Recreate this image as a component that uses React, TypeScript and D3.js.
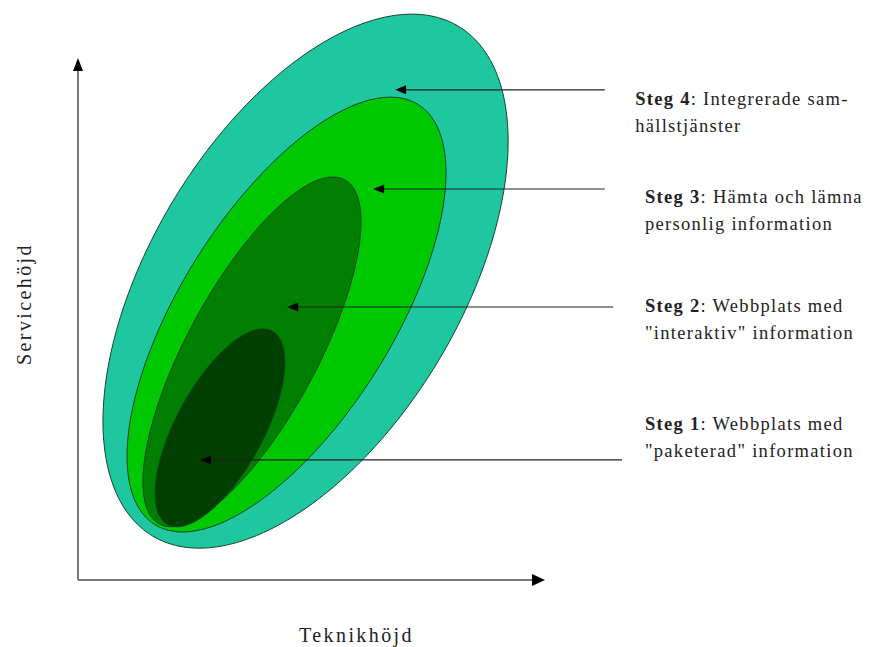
import React from "react";
import * as d3 from "d3";

// Stages (index 0 = Steg 1 ... 3 = Steg 4)
const stageNames = ["Steg 1", "Steg 2", "Steg 3", "Steg 4"];
const stageLine1 = [": Webbplats med", ": Webbplats med", ": Hämta och lämna", ": Integrerade sam-"];
const stageLine2 = ['"paketerad" information', '"interaktiv" information', "personlig information", "hällstjänster"];

// Zone extents in chart units (x: Teknikhöjd 0–100, y: Servicehöjd 0–100)
const zoneXMin = [16.5, 13.9, 10.5, 5.35];
const zoneXMax = [44.3, 60.6, 78.8, 92.1];
const zoneYMin = [10.2, 10.2, 9.2, 6.1];
const zoneYMax = [48.1, 77.2, 92.5, 108.4];
const zoneYAtXMax = [41.7, 68.6, 78.0, 84.1];

// Pointer arrows
const arrowY = [23.0, 52.3, 74.9, 93.9];
const arrowTipX = [26.1, 44.8, 63.2, 67.9];
const arrowTailX = [116.5, 114.6, 112.8, 112.8];

// Label anchors (chart units)
const labelX = [121.4, 121.4, 121.4, 119.3];
const labelY = [28.7, 51.3, 72.2, 91.0];

const xTitle = "Teknikhöjd";
const yTitle = "Servicehöjd";

const zoneColors = ["#003f00", "#007f00", "#00c800", "#1fc7a0"];

const W = 871;
const H = 647;
const FONT = "'Liberation Serif', 'Times New Roman', serif";

export default function App() {
  const x = d3.scaleLinear().domain([0, 100]).range([78, 545]);
  const y = d3.scaleLinear().domain([0, 100]).range([580, 58]);

  const line = d3.line<[number, number]>().curve(d3.curveLinearClosed);

  const zonePath = (i: number) => {
    const L = x(zoneXMin[i]);
    const R = x(zoneXMax[i]);
    const T = y(zoneYMax[i]);
    const B = y(zoneYMin[i]);
    const cx = (L + R) / 2;
    const cy = (T + B) / 2;
    const hw = (R - L) / 2;
    const hh = (B - T) / 2;
    const o = y(zoneYAtXMax[i]) - cy;
    const s = Math.sqrt(Math.max(hh * hh - o * o, 0));
    const pts: [number, number][] = d3.range(0, 360, 1).map((deg) => {
      const t = (deg * Math.PI) / 180;
      return [cx + hw * Math.cos(t), cy + o * Math.cos(t) + s * Math.sin(t)];
    });
    return line(pts) as string;
  };

  const order = [3, 2, 1, 0];
  const ax0 = x(0);
  const ay0 = y(0);
  const axEnd = x(100);
  const ayEnd = y(100);

  return (
    <svg
      width={W}
      height={H}
      viewBox={`0 0 ${W} ${H}`}
      style={{ position: "absolute", left: 0, top: 0, background: "#fff" }}
    >
      <rect x={0} y={0} width={W} height={H} fill="#fff" />
      {/* axes */}
      <line x1={ax0} y1={ay0} x2={axEnd - 10} y2={ay0} stroke="#7a7a7a" strokeWidth={2} />
      <line x1={ax0} y1={ay0} x2={ax0} y2={ayEnd + 10} stroke="#7a7a7a" strokeWidth={2} />
      <polygon
        points={`${axEnd},${ay0} ${axEnd - 13},${ay0 - 6} ${axEnd - 13},${ay0 + 6}`}
        fill="#000"
      />
      <polygon
        points={`${ax0},${ayEnd} ${ax0 - 5},${ayEnd + 13} ${ax0 + 5},${ayEnd + 13}`}
        fill="#000"
      />

      {/* zones */}
      {order.map((i) => (
        <path key={i} d={zonePath(i)} fill={zoneColors[i]} stroke="#14402c" strokeWidth={1} />
      ))}

      {/* arrows */}
      {stageNames.map((_, i) => {
        const yy = y(arrowY[i]);
        const tip = x(arrowTipX[i]);
        const tail = x(arrowTailX[i]);
        return (
          <g key={i}>
            <line x1={tip + 6} y1={yy} x2={tail} y2={yy} stroke="#222" strokeWidth={1.2} />
            <polygon points={`${tip},${yy} ${tip + 11},${yy - 4.5} ${tip + 11},${yy + 4.5}`} fill="#000" />
          </g>
        );
      })}

      {/* labels */}
      {stageNames.map((name, i) => {
        const lx = x(labelX[i]);
        const ly = y(labelY[i]);
        return (
          <g key={i} fontFamily={FONT} fontSize={18.5} fill="#222" letterSpacing={1.3}>
            <text x={lx} y={ly}>
              <tspan fontWeight="bold">{name}</tspan>
              <tspan>{stageLine1[i]}</tspan>
            </text>
            <text x={lx} y={ly + 27}>
              {stageLine2[i]}
            </text>
          </g>
        );
      })}

      {/* axis titles */}
      <text
        x={(ax0 + axEnd) / 2 + 45}
        y={642}
        textAnchor="middle"
        fontFamily={FONT}
        fontSize={20}
        letterSpacing={2.4}
        fill="#222"
      >
        {xTitle}
      </text>
      <text
        transform={`translate(31, ${(ay0 + ayEnd) / 2 - 15}) rotate(-90)`}
        textAnchor="middle"
        fontFamily={FONT}
        fontSize={20}
        letterSpacing={2.4}
        fill="#222"
      >
        {yTitle}
      </text>
    </svg>
  );
}
